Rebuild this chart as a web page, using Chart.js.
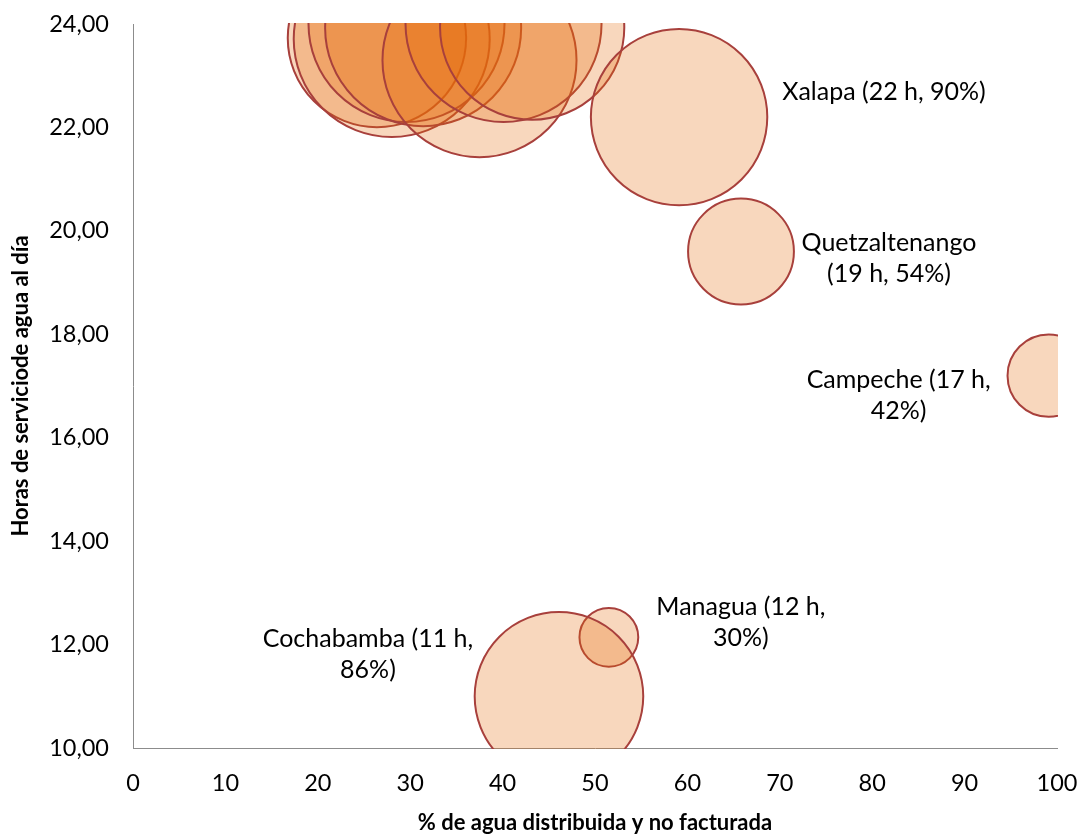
<!DOCTYPE html>
<html>
<head>
<meta charset="utf-8">
<script src="https://cdn.jsdelivr.net/npm/chart.js@4.4.1/dist/chart.umd.min.js"></script>
<style>
  html, body { margin: 0; padding: 0; background: #fff; }
  canvas { display: block; }
</style>
</head>
<body>
<canvas id="bubbleChart" width="1082" height="836"></canvas>
<script>
// Datos (primero el grupo de 24 h sin etiqueta, luego las ciudades etiquetadas)
const ciudades = ["", "", "", "", "", "", "",
  "Xalapa", "Quetzaltenango", "Campeche", "Managua", "Cochabamba"];
const aguaNoFacturada = [26.4, 28.0, 29.6, 31.4, 37.5, 40.1, 43.2,
  59.1, 65.8, 99.1, 51.5, 46.1];
const horasServicio = [23.73, 23.71, 24.0, 23.92, 23.3, 24.0, 23.93,
  22.2, 19.6, 17.2, 12.14, 11.0];
const cobertura = [91, 100, 100, 100, 99, 100, 94,
  90, 54, 42, 30, 86];
const etiquetas = [null, null, null, null, null, null, null,
  ["Xalapa (22 h, 90%)"],
  ["Quetzaltenango", "(19 h, 54%)"],
  ["Campeche (17 h,", "42%)"],
  ["Managua (12 h,", "30%)"],
  ["Cochabamba (11 h,", "86%)"]];
const xTicks = [0, 10, 20, 30, 40, 50, 60, 70, 80, 90, 100];
const yTicks = [10, 12, 14, 16, 18, 20, 22, 24];

// where each label sits relative to its bubble (px)
const labelPos = {
  "Xalapa": { dx: 205, dy: -25 },
  "Quetzaltenango": { dx: 148, dy: -9 },
  "Campeche": { dx: -150, dy: 4 },
  "Managua": { dx: 132, dy: -30 },
  "Cochabamba": { dx: -191, dy: -57 }
};
const radiusPerPct = 0.98;
const fontFamily = "Lato, 'Open Sans', sans-serif";

const points = aguaNoFacturada.map((x, i) => ({
  x: x, y: horasServicio[i], r: cobertura[i] * radiusPerPct
}));

const labelPlugin = {
  id: "bubbleLabels",
  afterDatasetsDraw(chart) {
    const ctx = chart.ctx;
    const meta = chart.getDatasetMeta(0);
    ctx.save();
    ctx.font = "25px " + fontFamily;
    ctx.fillStyle = "#000";
    ctx.textBaseline = "middle";
    ctx.textAlign = "center";
    etiquetas.forEach((lines, i) => {
      if (!lines) return;
      const pos = labelPos[ciudades[i]];
      const el = meta.data[i];
      lines.forEach((t, k) => {
        ctx.fillText(t, el.x + pos.dx, el.y + pos.dy + k * 31);
      });
    });
    ctx.restore();
  }
};

new Chart(document.getElementById("bubbleChart").getContext("2d"), {
  type: "bubble",
  data: {
    labels: ciudades,
    datasets: [{
      data: points,
      backgroundColor: "rgba(228, 108, 10, 0.27)",
      borderColor: "#a8403c",
      borderWidth: 2,
      hoverRadius: 0,
      clip: 1
    }]
  },
  options: {
    responsive: false,
    animation: false,
    events: [],
    layout: { autoPadding: false, padding: { top: 24, right: 25, left: 0, bottom: 0 } },
    plugins: { legend: { display: false }, tooltip: { enabled: false } },
    scales: {
      x: {
        type: "linear",
        min: 0,
        max: 100,
        afterBuildTicks: s => { s.ticks = xTicks.map(v => ({ value: v })); },
        afterFit: s => { s.height = 88; s.paddingLeft = 0; s.paddingRight = 0; },
        grid: { display: false, drawTicks: false },
        border: { display: true, color: "#8c8c8c", width: 1 },
        ticks: { color: "#000", padding: 21, font: { family: fontFamily, size: 23.5 } },
        title: {
          display: true,
          text: "% de agua distribuida y no facturada",
          color: "#000",
          padding: 0,
          font: { family: fontFamily, size: 22, weight: "bold" }
        }
      },
      y: {
        min: 10,
        max: 24,
        afterBuildTicks: s => { s.ticks = yTicks.map(v => ({ value: v })); },
        afterFit: s => { s.width = 133; s.paddingTop = 0; s.paddingBottom = 0; },
        grid: { display: false, drawTicks: false },
        border: { display: true, color: "#8c8c8c", width: 1 },
        ticks: {
          color: "#000",
          padding: 24,
          font: { family: fontFamily, size: 23.5 },
          callback: v => v.toFixed(2).replace(".", ",")
        },
        title: {
          display: true,
          text: "Horas de serviciode agua al día",
          color: "#000",
          padding: { top: 8, bottom: 0 },
          font: { family: fontFamily, size: 22, weight: "bold" }
        }
      }
    }
  },
  plugins: [labelPlugin]
});
</script>
</body>
</html>
